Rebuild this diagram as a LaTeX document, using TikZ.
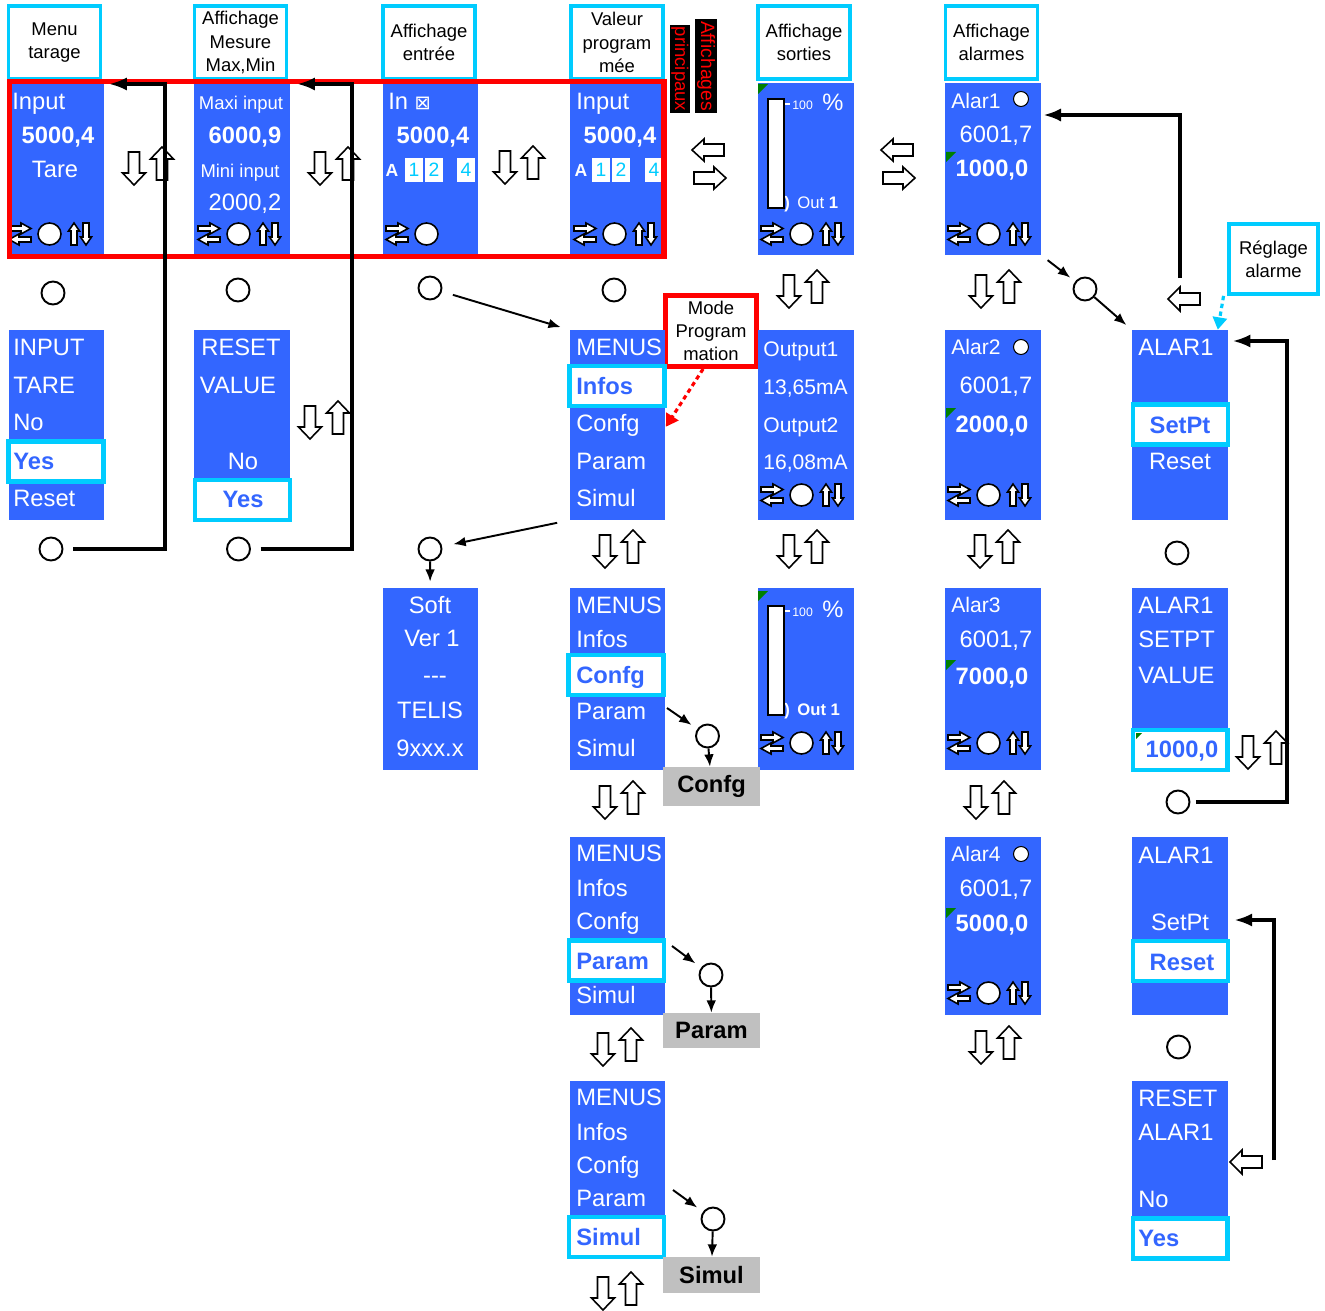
\documentclass[tikz,border=0pt]{standalone}
\usepackage{fontspec}
\setmainfont{Liberation Sans}
\newfontfamily\dejavu{DejaVu Sans}
\usepackage{tikz}
\usetikzlibrary{arrows.meta}
\definecolor{bleuecran}{HTML}{3366FF}
\definecolor{cyanbord}{HTML}{00CCFF}
\definecolor{rouge}{HTML}{FF0000}
\definecolor{grisclair}{HTML}{C0C0C0}
\definecolor{vertmarque}{HTML}{008000}

\begin{document}
\begin{tikzpicture}[x=0.02cm, y=-0.02cm,
        ecran/.style={fill=bleuecran, minimum width=1.92cm, inner sep=0pt},
        titre/.style={draw=cyanbord, line width=2.2pt, fill=white, minimum width=1.84cm,
                minimum height=1.46cm, inner sep=0pt, align=center,
                font=\fontsize{10.5}{13.3}\selectfont},
        txt/.style={text=white, inner sep=0pt, anchor=west, text height=9.6pt, text depth=0pt,
                font=\fontsize{13.5}{16}\selectfont},
        txtc/.style={txt, anchor=center},
        gras/.style={txtc, font=\fontsize{13.5}{16}\selectfont\bfseries},
        txtb/.style={txt, text=bleuecran, font=\fontsize{13.5}{16}\selectfont\bfseries},
        petit/.style={txt, text height=8.6pt, font=\fontsize{12}{14}\selectfont},
        mini/.style={txtc, text height=7.5pt, font=\fontsize{10.5}{12}\selectfont},
        cadre/.style={draw=cyanbord, line width=2.3pt, fill=white, minimum width=1.9cm,
                minimum height=0.8cm, inner sep=0pt},
        gris/.style={fill=grisclair, minimum width=1.94cm, inner sep=0pt,
                font=\fontsize{13.5}{16}\selectfont\bfseries},
        bouton/.style={circle, draw, line width=1.1pt, fill=white, minimum size=0.46cm, inner sep=0pt},
        voyant/.style={circle, draw, line width=0.6pt, fill=white, minimum size=0.3cm, inner sep=0pt},
        case/.style={fill=white, text=cyanbord, minimum width=0.36cm, minimum height=0.5cm,
                inner sep=0pt, font=\fontsize{11}{12}\selectfont},
        creux/.style={draw=black, fill=white, line width=0.9pt},
        ligne/.style={line width=1.8pt, -{Latex[length=10pt,width=7.5pt]}},
        fleche/.style={line width=1.1pt, -{Latex[length=7pt,width=5.5pt]}},
        pointille/.style={line width=1.8pt, dash pattern=on 2.5pt off 2pt,
                -{Triangle[length=7pt,width=8pt]}},
        pics/hb/.style={code={
                \draw[creux] (-19.5,-14) -- (-8.5,-14) -- (-8.5,7) -- (-2.5,7) -- (-14,19) -- (-25.5,7) -- (-19.5,7) -- cycle;
                \draw[creux] (8.5,14) -- (19.5,14) -- (19.5,-7) -- (25.5,-7) -- (14,-19) -- (2.5,-7) -- (8.5,-7) -- cycle;}},
        pics/gd/.style={code={
                \draw[creux] (16,-20) -- (-4,-20) -- (-4,-25) -- (-16,-14) -- (-4,-3) -- (-4,-8) -- (16,-8) -- cycle;
                \draw[creux] (-14,8) -- (6,8) -- (6,3) -- (18,14) -- (6,25) -- (6,20) -- (-14,20) -- cycle;}},
        pics/gauche/.style={code={
                \draw[creux] (16,-6) -- (-4,-6) -- (-4,-12) -- (-16,0) -- (-4,12) -- (-4,6) -- (16,6) -- cycle;}},
        pics/clavb/.style={code={
                \draw[creux] (-11,-8) -- (1,-8) -- (1,-11) -- (11,-5.5) -- (1,0) -- (1,-3) -- (-11,-3) -- cycle;
                \draw[creux] (11,3) -- (-1,3) -- (-1,0) -- (-11,5.5) -- (-1,11) -- (-1,8) -- (11,8) -- cycle;
                \draw[creux] (29.5,0) ellipse [x radius=0.23cm, y radius=0.22cm];}},
        pics/clav/.style={code={
                \pic {clavb};
                \draw[creux] (51,11) -- (51,-3) -- (48.5,-3) -- (54,-11) -- (59.5,-3) -- (57,-3) -- (57,11) -- cycle;
                \draw[creux] (63,-11) -- (69,-11) -- (69,3) -- (71.5,3) -- (66,11) -- (60.5,3) -- (63,3) -- cycle;}}
    ]
    \useasboundingbox (0,0) rectangle (1325,1311);

    % titres des colonnes
    \node[titre] (t1) at (54.5,42.5) {Menu\\tarage};
    \node[titre] (t2) at (240.5,42.5) {Affichage\\Mesure\\Max,Min};
    \node[titre] (t3) at (429,42.5) {Affichage\\entrée};
    \node[titre] (t4) at (617,42.5) {Valeur\\program\\mée};
    \node[titre] (t5) at (804,42.5) {Affichage\\sorties};
    \node[titre] (t6) at (991.5,42.5) {Affichage\\alarmes};
    \node[fill=black, text=rouge, rotate=-90, inner sep=1pt, font=\fontsize{11}{12}\selectfont] (aff) at (706,66) {Affichages};
    \node[fill=black, text=rouge, rotate=-90, inner sep=1pt, font=\fontsize{10.5}{12}\selectfont] (pri) at (680,69) {principaux};

    % ecrans, ligne 1
    \node[ecran, minimum height=3.44cm] (s11) at (56.5,169) {};
    \node[ecran, minimum height=3.44cm] (s21) at (242,169) {};
    \node[ecran, minimum height=3.44cm] (s31) at (430.5,169) {};
    \node[ecran, minimum height=3.44cm] (s41) at (617.5,169) {};
    \node[ecran, minimum height=3.44cm] (s51) at (805.5,169) {};
    \node[ecran, minimum height=3.44cm] (s61) at (993,169) {};

    \node[txt] (s11a) at (12,101) {Input};
    \node[gras] (s11b) at (58,135) {5000,4};
    \node[txtc] (s11c) at (55,169) {Tare};
    \pic at (20,234) {clav};

    \node[mini] (s21a) at (241,103) {Maxi input};
    \node[gras] (s21b) at (245,135) {6000,9};
    \node[mini] (s21c) at (240,171) {Mini input};
    \node[txtc] (s21d) at (245,202) {2000,2};
    \pic at (209,234) {clav};

    \node[txt] (s31a) at (388,101) {In {\dejavu\fontsize{11}{12}\selectfont ⊠}};
    \node[gras] (s31b) at (433,135) {5000,4};
    \node[txtc, text height=7.2pt, font=\fontsize{10}{12}\selectfont\bfseries] (s31c) at (392,170) {A};
    \foreach \cx/\d in {414/1, 434/2, 466/4}
        \node[case] (c3-\d) at (\cx,170) {\d};
    \pic at (397,234) {clavb};

    \node[txt] (s41a) at (576,101) {Input};
    \node[gras] (s41b) at (620,135) {5000,4};
    \node[txtc, text height=7.2pt, font=\fontsize{10}{12}\selectfont\bfseries] (s41c) at (581,170) {A};
    \foreach \cx/\d in {601/1, 621/2, 654/4}
        \node[case] (c4-\d) at (\cx,170) {\d};
    \pic at (585,234) {clav};

    \pic at (772,234) {clav};

    \node[petit] (s61a) at (951,101) {Alar1};
    \node[voyant] (v1) at (1021,99) {};
    \node[txtc] (s61b) at (996,134) {6001,7};
    \fill[vertmarque] (946,152) -- ++(10,0) -- ++(-10,10) -- cycle;
    \node[gras] (s61c) at (992,168) {1000,0};
    \pic at (959,234) {clav};

    \draw[rouge, line width=3.1pt] (9.5,81.5) rectangle (664,256.5);

    \pic at (148,166) {hb};
    \pic at (334,166) {hb};
    \pic at (519,165) {hb};
    \pic at (708,164) {gd};
    \pic at (897,164) {gd};

    % sous la ligne 1
    \node[bouton] (b1) at (53,293) {};
    \node[bouton] (b2) at (238,290) {};
    \node[bouton] (b3) at (430,288) {};
    \node[bouton] (b4) at (614,290) {};
    \pic at (803,289) {hb};
    \pic at (995,289) {hb};
    \node[bouton] (b11) at (1085,289) {};
    \pic at (1184,299) {gauche};
    \node[draw=rouge, line width=2.8pt, fill=white, minimum width=1.82cm, minimum height=1.42cm,
        inner sep=0pt, align=center, font=\fontsize{10.5}{13.3}\selectfont] (mode) at (711,331) {Mode\\Program\\mation};
    \node[draw=cyanbord, line width=2.2pt, fill=white, minimum width=1.78cm, minimum height=1.4cm,
        inner sep=0pt, align=center, font=\fontsize{10.5}{13.3}\selectfont] (reg) at (1273.5,259) {Réglage\\alarme};

    % ecrans, ligne 2
    \node[ecran, minimum height=3.8cm] (s12) at (56.5,425) {};
    \node[txt] (s12a) at (13,347) {INPUT};
    \node[txt] (s12b) at (13,385) {TARE};
    \node[txt] (s12c) at (13,422) {No};
    \node[cadre] (h12) at (56,461.5) {};
    \node[txtb] (s12d) at (13,461) {Yes};
    \node[txt] (s12e) at (13,498) {Reset};

    \node[ecran, minimum height=2.96cm] (s22) at (242,404) {};
    \node[txtc] (s22a) at (241,347) {RESET};
    \node[txtc] (s22b) at (238,385) {VALUE};
    \node[txtc] (s22c) at (243,461) {No};
    \node[cadre] (h22) at (242.5,500) {};
    \node[txtb, anchor=center] (s22d) at (243,499) {Yes};
    \pic at (324,420) {hb};

    \node[ecran, minimum height=3.8cm] (m1) at (617.5,425) {};
    \node[txt] (m1a) at (576,347) {MENUS};
    \node[cadre] (hm1) at (617,386) {};
    \node[txtb] (m1b) at (576,386) {Infos};
    \node[txt] (m1c) at (576,423) {Confg};
    \node[txt] (m1d) at (576,461) {Param};
    \node[txt] (m1e) at (576,498) {Simul};

    \node[ecran, minimum height=3.8cm] (s52) at (805.5,425) {};
    \node[petit] (s52a) at (763,349) {Output1};
    \node[petit] (s52b) at (763,387) {13,65mA};
    \node[petit] (s52c) at (763,425) {Output2};
    \node[petit] (s52d) at (763,462) {16,08mA};
    \pic at (772,495) {clav};

    \node[ecran, minimum height=3.8cm] (s62) at (993,425) {};
    \node[petit] (s62a) at (951,347) {Alar2};
    \node[voyant] (v2) at (1021,347) {};
    \node[txtc] (s62b) at (996,385) {6001,7};
    \fill[vertmarque] (946,408) -- ++(10,0) -- ++(-10,10) -- cycle;
    \node[gras] (s62c) at (992,424) {2000,0};
    \pic at (959,495) {clav};

    \node[ecran, minimum height=3.8cm] (a1) at (1180,425) {};
    \node[txt] (a1a) at (1138,347) {ALAR1};
    \node[cadre] (ha1) at (1180.5,424.5) {};
    \node[txtb, anchor=center] (a1b) at (1180,425) {SetPt};
    \node[txtc] (a1c) at (1180,461) {Reset};

    % sous la ligne 2
    \node[bouton] (b5) at (51,549) {};
    \node[bouton] (b6) at (238.5,549) {};
    \node[bouton] (b7) at (430,549) {};
    \pic at (619,549) {hb};
    \pic at (803,549) {hb};
    \pic at (994,549) {hb};
    \node[bouton] (b12) at (1177,553) {};

    % ecrans, ligne 3
    \node[ecran, minimum height=3.64cm] (soft) at (430.5,679) {};
    \node[txtc] (so1) at (430,605) {Soft};
    \node[txtc] (so2) at (432,638) {Ver 1};
    \node[txtc] (so3) at (435,675) {-{}-{}-};
    \node[txtc] (so4) at (430,710) {TELIS};
    \node[txtc] (so5) at (430,748) {9xxx.x};

    \node[ecran, minimum height=3.64cm] (m2) at (617.5,679) {};
    \node[txt] (m2a) at (576,605) {MENUS};
    \node[txt] (m2b) at (576,639) {Infos};
    \node[cadre] (hm2) at (616,675) {};
    \node[txtb] (m2c) at (576,675) {Confg};
    \node[txt] (m2d) at (576,711) {Param};
    \node[txt] (m2e) at (576,748) {Simul};

    \node[ecran, minimum height=3.64cm] (s53) at (805.5,679) {};
    \pic at (772,743) {clav};

    % bargraphes des sorties
    \foreach \dy/\n in {0/a, 507/b} {
        \fill[vertmarque] (758,84+\dy) -- ++(10,0) -- ++(-10,10) -- cycle;
        \node[txt, text height=6pt, font=\fontsize{9.5}{10}\selectfont\bfseries] (par\n) at (784,203+\dy) {)};
        \draw[fill=white, line width=0.9pt] (768,99+\dy) rectangle (784,208+\dy);
        \draw[white, line width=0.8pt] (785,104+\dy) -- (790,104+\dy);
        \node[txt, text height=5pt, font=\fontsize{7}{8}\selectfont] (cent\n) at (792,105+\dy) {100};
        \node[txt] (pct\n) at (822,102+\dy) {\%};
    }
    \node[txt, text height=6.8pt, font=\fontsize{9.5}{10}\selectfont] (outa) at (797,203) {Out \textbf{1}};
    \node[txt, text height=6.8pt, font=\fontsize{9.5}{10}\selectfont\bfseries] (outb) at (797,710) {Out 1};

    \node[ecran, minimum height=3.64cm] (s63) at (993,679) {};
    \node[petit] (s63a) at (951,605) {Alar3};
    \node[txtc] (s63b) at (996,639) {6001,7};
    \fill[vertmarque] (946,660) -- ++(10,0) -- ++(-10,10) -- cycle;
    \node[gras] (s63c) at (992,676) {7000,0};
    \pic at (959,743) {clav};

    \node[ecran, minimum height=2.8cm] (a2) at (1180,658) {};
    \node[txt] (a2a) at (1138,605) {ALAR1};
    \node[txt] (a2b) at (1138,639) {SETPT};
    \node[txt] (a2c) at (1138,675) {VALUE};
    \node[cadre] (ha2) at (1180,750) {};
    \fill[vertmarque] (1136,733) -- ++(6,0) -- ++(-6,6) -- cycle;
    \node[txtb, anchor=center] (a2d) at (1182,749) {1000,0};
    \pic at (1262,750) {hb};

    % sous la ligne 3
    \node[bouton] (b8) at (707.5,736) {};
    \node[gris, minimum height=0.78cm] (g1) at (711.5,786.5) {Confg};
    \pic at (619,800) {hb};
    \pic at (990,800) {hb};
    \node[bouton] (b13) at (1178,802) {};

    % ecrans, ligne 4
    \node[ecran, minimum height=3.56cm] (m3) at (617.5,926) {};
    \node[txt] (m3a) at (576,853) {MENUS};
    \node[txt] (m3b) at (576,888) {Infos};
    \node[txt] (m3c) at (576,921) {Confg};
    \node[cadre] (hm3) at (616.5,960.5) {};
    \node[txtb] (m3d) at (576,961) {Param};
    \node[txt] (m3e) at (576,995) {Simul};
    \node[bouton] (b9) at (711,975) {};
    \node[gris, minimum height=0.7cm] (g2) at (711.5,1030.5) {Param};

    \node[ecran, minimum height=3.56cm] (s64) at (993,926) {};
    \node[petit] (s64a) at (951,854) {Alar4};
    \node[voyant] (v4) at (1021,854) {};
    \node[txtc] (s64b) at (996,888) {6001,7};
    \fill[vertmarque] (946,908) -- ++(10,0) -- ++(-10,10) -- cycle;
    \node[gras] (s64c) at (992,923) {5000,0};
    \pic at (959,993) {clav};

    \node[ecran, minimum height=3.56cm] (a3) at (1180,926) {};
    \node[txt] (a3a) at (1138,855) {ALAR1};
    \node[txtc] (a3b) at (1180,922) {SetPt};
    \node[cadre] (ha3) at (1180.5,961) {};
    \node[txtb, anchor=center] (a3c) at (1182,962) {Reset};

    % sous la ligne 4
    \pic at (617,1047) {hb};
    \pic at (995,1045) {hb};
    \node[bouton] (b14) at (1178.5,1047) {};

    % ecrans, ligne 5
    \node[ecran, minimum height=3.54cm] (m4) at (617.5,1169.5) {};
    \node[txt] (m4a) at (576,1097) {MENUS};
    \node[txt] (m4b) at (576,1132) {Infos};
    \node[txt] (m4c) at (576,1165) {Confg};
    \node[txt] (m4d) at (576,1198) {Param};
    \node[cadre] (hm4) at (616.5,1237) {};
    \node[txtb] (m4e) at (576,1237) {Simul};
    \node[bouton] (b10) at (713,1219) {};
    \node[gris, minimum height=0.72cm] (g3) at (711.5,1275) {Simul};
    \pic at (617,1291) {hb};

    \node[ecran, minimum height=3.54cm] (a4) at (1180,1169.5) {};
    \node[txt] (a4a) at (1138,1098) {RESET};
    \node[txt] (a4b) at (1138,1132) {ALAR1};
    \node[txt] (a4c) at (1138,1199) {No};
    \node[cadre] (ha4) at (1180,1238.5) {};
    \node[txtb] (a4d) at (1138,1238) {Yes};
    \pic at (1246,1162) {gauche};

    % liaisons
    \coordinate (k1) at (165,84);
    \coordinate (k2) at (352,84);
    \coordinate (k5) at (1180,278);
    \coordinate (k6) at (1180,115);
    \coordinate (k7) at (1287,341);
    \coordinate (k8) at (1274,1160);
    \coordinate (k9) at (1274,920);
    \coordinate (d8) at (667,708);
    \coordinate (d9) at (672,946);
    \coordinate (d10) at (673,1190);

    \draw[ligne, shorten <=5.5pt, shorten >=2.5pt] (b5) -| (k1) -- (k1 -| s11.east);
    \draw[ligne, shorten <=5.5pt, shorten >=4pt] (b6) -| (k2) -- (k2 -| s21.east);
    \draw[fleche, shorten <=6.5pt, shorten >=5pt] (b3) -- (m1.north west);
    \draw[fleche, shorten <=7pt, shorten >=6.5pt] (m1.south west) -- (b7);
    \draw[fleche, shorten >=3.4pt] (b7) -- (soft);
    \draw[fleche, shorten >=4pt] (d8) -- (b8);
    \draw[fleche] (b8) -- (g1);
    \draw[fleche, shorten >=4pt] (d9) -- (b9);
    \draw[fleche] (b9) -- (g2);
    \draw[fleche, shorten >=4pt] (d10) -- (b10);
    \draw[fleche] (b10) -- (g3);
    \draw[fleche, shorten <=4.5pt, shorten >=3.5pt] (s61.south east) -- (b11);
    \draw[fleche, shorten >=4pt] (b11) -- (a1.north west);
    \draw[ligne, shorten >=1.2pt] (k5) -- (k6) -- (k6 -| s61.east);
    \draw[ligne, shorten <=3pt, shorten >=2.5pt] (b13) -| (k7) -- (k7 -| a1.east);
    \draw[ligne, shorten >=3.5pt] (k8) -- (k9) -- (k9 -| a3.east);
    \draw[pointille, cyanbord] ([xshift=-2pt]reg.south west) -- ([xshift=-6pt]a1.north east);
    \draw[pointille, rouge] ([xshift=-4.5pt]mode.south) -- ([yshift=-1pt]m1.east);
\end{tikzpicture}
\end{document}
